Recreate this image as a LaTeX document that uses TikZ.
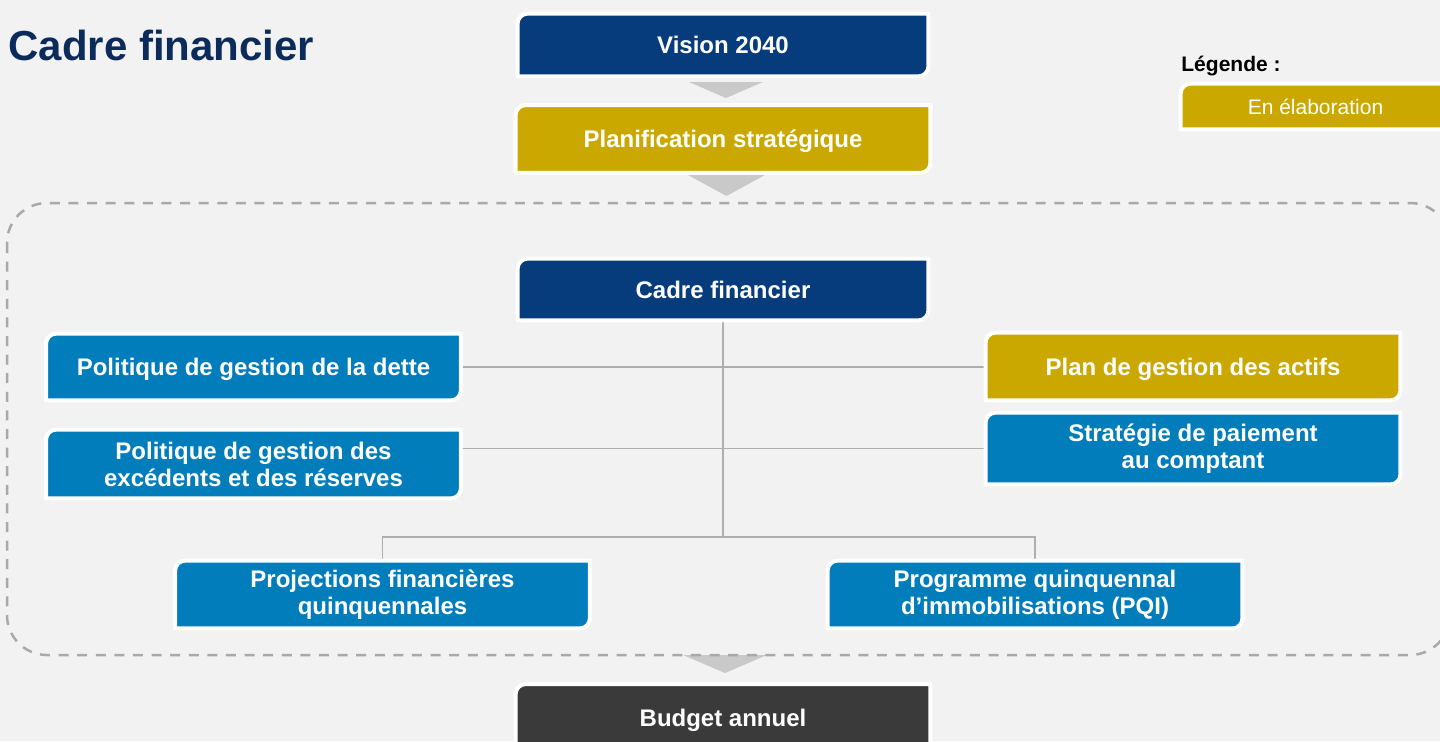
\documentclass[tikz,border=0pt]{standalone}
\usepackage{fontspec}
\setmainfont{Liberation Sans}
\usepackage{xcolor}
\usetikzlibrary{positioning, calc}

\definecolor{paper}{HTML}{F2F2F2}
\definecolor{navy}{HTML}{063C7C}
\definecolor{gold}{HTML}{CAA800}
\definecolor{ocean}{HTML}{007DBA}
\definecolor{charcoal}{HTML}{3A3A3A}
\definecolor{titleblue}{HTML}{0B2C5A}
\definecolor{linkgray}{HTML}{AEAEAE}
\definecolor{dashgray}{HTML}{A9A9A9}
\definecolor{tipgray}{HTML}{C9C9C9}

\pgfdeclarelayer{paperlayer}
\pgfdeclarelayer{plates}
\pgfsetlayers{paperlayer,plates,main}

\tikzset{
  plate/.style={text=white, font=\bfseries\fontsize{12}{13.5}\selectfont, align=center,
    inner sep=0pt, minimum width=207pt, minimum height=33pt},
  oneline/.style={text depth=0pt},
  plateedge/.style={draw=white, line width=2pt, line join=round},
  link/.style={draw=linkgray, line width=0.75pt},
  flowtip/.style={fill=tipgray},
  frameline/.style={draw=dashgray, line width=1.25pt, dash pattern=on 5pt off 4.3pt, rounded corners=20pt}
}

% coloured plate behind a node: rounded top-left and bottom-right corners
\newcommand\platebox[2]{%
  \begin{pgfonlayer}{plates}
    \draw[plateedge, fill=#2] (#1.south west) -- ([yshift=-5pt]#1.north west)
      arc[start angle=180, end angle=90, radius=5pt] -- (#1.north east)
      -- ([yshift=5pt]#1.south east) arc[start angle=0, end angle=-90, radius=5pt] -- cycle;
  \end{pgfonlayer}}

% grey chevron: x, half width, top y, tip y
\newcommand\flowchevron[4]{\fill[flowtip] (#1-#2,#3) -- (#1+#2,#3) -- (#1,#4) -- cycle;}

\begin{document}
\begin{tikzpicture}[x=0.5pt, y=-0.5pt]

    \useasboundingbox (0,0) rectangle (1440,741);
    \begin{pgfonlayer}{paperlayer}
      \fill[paper] (0,0) rectangle (1440,741);
    \end{pgfonlayer}

    % Title and legend
    \node[anchor=base west, inner sep=0pt, text=titleblue, font=\bfseries\fontsize{21}{24}\selectfont]
          (titre) at (8,60) {Cadre financier};
    \node[anchor=base west, inner sep=0pt, font=\bfseries\fontsize{10.5}{12}\selectfont]
          (legende) at (1181,71) {Légende :};
    \node[plate, oneline, font=\fontsize{10.5}{12}\selectfont, minimum width=134.5pt, minimum height=22.5pt]
          (enelab) at (1315.5,106.5) {En élaboration};

    % Top of the chain
    \node[plate, oneline, minimum width=205pt, minimum height=31pt] (vision) at (723,45) {Vision 2040};
    \node[plate, oneline, minimum height=33.5pt] (planif) at (723,139) {Planification stratégique};
    \flowchevron{726}{37}{82}{98}
    \flowchevron{726.5}{38.5}{175}{196}

    % Financial framework and its parts
    \node[plate, oneline, minimum width=205pt, minimum height=30.5pt] (cadre) at (723,289.5) {Cadre financier};
    \node[plate, oneline] (dette) at (253.5,367) {Politique de gestion de la dette};
    \node[plate, minimum height=34pt] (reserves) at (253.5,464) {Politique de gestion des\\excédents et des réserves};
    \node[plate, oneline, minimum height=33.5pt] (actifs) at (1193,366.5) {Plan de gestion des actifs};
    \node[plate, minimum height=35.5pt] (comptant) at (1193,448.5) {Stratégie de paiement\\au comptant};
    \node[plate, minimum height=33.5pt] (projections) at (382.5,594.5) {Projections financières\\quinquennales};
    \node[plate, minimum height=33.5pt] (pqi) at (1035,594.5) {Programme quinquennal\\d’immobilisations (PQI)};

    % Tree of grey links
    \coordinate (hub) at (723,537);
    \begin{pgfonlayer}{paperlayer}
      \draw[link, line width=1pt] (cadre.south) -- (hub);
      \draw[link] (dette.east) -- (dette.east -| actifs.west);
      \draw[link] (comptant.west) -- (comptant.west -| reserves.east);
      \draw[link] (projections.north) |- (hub) -| (pqi.north);
    \end{pgfonlayer}

    % Dashed frame round the framework, then the budget below it
    \flowchevron{725}{42}{655}{673}
    \draw[frameline] (7,203) rectangle (1450,655);
    \node[plate, oneline, minimum height=33.5pt] (budget) at (723,718) {Budget annuel};

    % Plates behind the nodes
    \platebox{enelab}{gold}
    \platebox{vision}{navy}
    \platebox{planif}{gold}
    \platebox{cadre}{navy}
    \platebox{dette}{ocean}
    \platebox{reserves}{ocean}
    \platebox{actifs}{gold}
    \platebox{comptant}{ocean}
    \platebox{projections}{ocean}
    \platebox{pqi}{ocean}
    \platebox{budget}{charcoal}

\end{tikzpicture}
\end{document}
